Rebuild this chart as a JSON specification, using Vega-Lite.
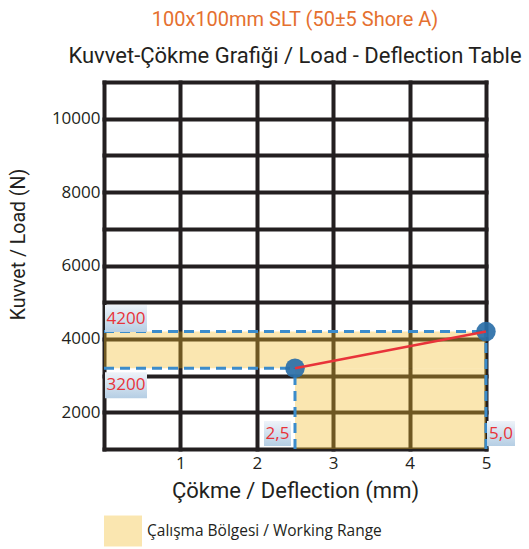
{
  "$schema": "https://vega.github.io/schema/vega-lite/v6.json",
  "width": 382,
  "height": 367,
  "padding": {"left": 8, "top": 10, "right": 5, "bottom": 0},
  "background": "white",
  "config": {"view": {"stroke": null}, "font": "Open Sans"},
  "title": {
    "text": "100x100mm SLT (50±5 Shore A)",
    "subtitle": "Kuvvet-Çökme Grafiği / Load - Deflection Table",
    "anchor": "middle",
    "frame": "group",
    "font": "Roboto",
    "fontSize": 20,
    "fontWeight": "normal",
    "color": "#E5702F",
    "subtitleFont": "Roboto",
    "subtitleFontSize": 22,
    "subtitleColor": "#231f20",
    "subtitlePadding": 16,
    "offset": 6
  },
  "datasets": {
    "zone": [
      {"zone": "Çalışma Bölgesi / Working Range", "x": 0, "x2": 5, "y": 3200, "y2": 4200},
      {"zone": "Çalışma Bölgesi / Working Range", "x": 2.5, "x2": 5, "y": 1000, "y2": 3200}
    ],
    "guides": [
      {"x": 0, "x2": 5, "y": 4200, "y2": 4200},
      {"x": 0, "x2": 2.5, "y": 3200, "y2": 3200},
      {"x": 2.5, "x2": 2.5, "y": 1000, "y2": 3200},
      {"x": 5, "x2": 5, "y": 1000, "y2": 4200}
    ],
    "points": [
      {"deflection": 2.5, "load": 3200},
      {"deflection": 5.0, "load": 4200}
    ],
    "labels": [
      {"label": "4200", "x": 0, "y": 4200},
      {"label": "3200", "x": 0, "y": 3200},
      {"label": "2,5", "x": 2.5, "y": 1000},
      {"label": "5,0", "x": 5, "y": 1000}
    ]
  },
  "layer": [
    {
      "data": {"name": "zone"},
      "mark": {"type": "rect", "opacity": 0.365},
      "encoding": {
        "x": {
          "field": "x", "type": "quantitative",
          "scale": {"domain": [0, 5], "nice": false, "zero": false},
          "axis": {
            "values": [0, 0.5, 1, 1.5, 2, 2.5, 3, 3.5, 4, 4.5, 5],
            "tickCount": 40,
            "format": "d",
            "labelExpr": "datum.value > 0 && datum.value % 1 == 0 ? datum.label : ''",
            "labelOverlap": false,
            "labelFlush": false,
            "grid": true, "gridColor": "#231f20", "gridWidth": 4, "gridOpacity": 1, "gridCap": "square",
            "domain": false, "ticks": false,
            "labelFont": "Open Sans", "labelFontSize": 17, "labelColor": "#231f20", "labelPadding": 6,
            "title": "Çökme / Deflection (mm)",
            "titleFont": "Roboto", "titleFontSize": 22, "titleFontWeight": "normal",
            "titleColor": "#231f20", "titlePadding": 9
          }
        },
        "x2": {"field": "x2"},
        "y": {
          "field": "y", "type": "quantitative",
          "scale": {"domain": [1000, 11000], "nice": false, "zero": false},
          "axis": {
            "values": [1000, 2000, 3000, 4000, 5000, 6000, 7000, 8000, 9000, 10000, 11000],
            "tickCount": 40,
            "format": "d",
            "labelExpr": "datum.value % 2000 == 0 && datum.value < 11000 ? datum.label : ''",
            "labelOverlap": false,
            "labelFlush": false,
            "grid": true, "gridColor": "#231f20", "gridWidth": 4, "gridOpacity": 1, "gridCap": "square",
            "domain": false, "ticks": false,
            "labelFont": "Open Sans", "labelFontSize": 17, "labelColor": "#231f20", "labelPadding": 4,
            "title": "Kuvvet / Load  (N)",
            "titleFont": "Roboto", "titleFontSize": 19.5, "titleFontWeight": "normal",
            "titleColor": "#231f20", "titlePadding": 23,
            "titleY": 162
          }
        },
        "y2": {"field": "y2"},
        "color": {
          "field": "zone", "type": "nominal",
          "scale": {"range": ["#F2BB26"]},
          "legend": {
            "title": null,
            "orient": "none",
            "legendX": 0,
            "legendY": 430,
            "symbolType": "M-1,-0.82L1,-0.82L1,0.82L-1,0.82Z",
            "symbolSize": 1444,
            "symbolStrokeWidth": 0,
            "symbolOpacity": 0.365,
            "labelFont": "Open Sans", "labelFontSize": 15.5, "labelColor": "#231f20", "labelOffset": 5,
            "labelLimit": 400
          }
        }
      }
    },
    {
      "data": {"name": "guides"},
      "mark": {"type": "rule", "color": "#3B8CCB", "strokeWidth": 3, "strokeDash": [10, 6]},
      "encoding": {
        "x": {"field": "x", "type": "quantitative"},
        "x2": {"field": "x2"},
        "y": {"field": "y", "type": "quantitative"},
        "y2": {"field": "y2"}
      }
    },
    {
      "data": {"name": "points"},
      "mark": {"type": "point", "filled": true, "size": 380, "color": "#2A6FA8", "opacity": 0.92},
      "encoding": {
        "x": {"field": "deflection", "type": "quantitative"},
        "y": {"field": "load", "type": "quantitative"}
      }
    },
    {
      "data": {"name": "points"},
      "mark": {"type": "line", "color": "#E8333A", "strokeWidth": 2.5},
      "encoding": {
        "x": {"field": "deflection", "type": "quantitative"},
        "y": {"field": "load", "type": "quantitative"}
      }
    },
    {
      "data": {"name": "labels"},
      "transform": [{"filter": "datum.label == '4200'"}],
      "layer": [
        {"mark": {"type": "point", "filled": true, "shape": "M-1,-0.643L1,-0.643L1,0.643L-1,0.643Z", "size": 1764, "opacity": 1, "xOffset": 22, "yOffset": -13,
          "color": {"gradient": "linear", "x1": 0, "y1": 0, "x2": 0, "y2": 1, "stops": [{"offset": 0, "color": "#EEF3F9"}, {"offset": 1, "color": "#B5CEE4"}]}}},
        {"mark": {"type": "text", "color": "#E8333A", "font": "Open Sans", "fontSize": 17, "align": "center", "baseline": "middle", "dx": 22, "dy": -13}, "encoding": {"text": {"field": "label"}}}
      ],
      "encoding": {"x": {"field": "x", "type": "quantitative"}, "y": {"field": "y", "type": "quantitative"}}
    },
    {
      "data": {"name": "labels"},
      "transform": [{"filter": "datum.label == '3200'"}],
      "layer": [
        {"mark": {"type": "point", "filled": true, "shape": "M-1,-0.62L1,-0.62L1,0.62L-1,0.62Z", "size": 1764, "opacity": 1, "xOffset": 22, "yOffset": 17,
          "color": {"gradient": "linear", "x1": 0, "y1": 0, "x2": 0, "y2": 1, "stops": [{"offset": 0, "color": "#EEF3F9"}, {"offset": 1, "color": "#B5CEE4"}]}}},
        {"mark": {"type": "text", "color": "#E8333A", "font": "Open Sans", "fontSize": 17, "align": "center", "baseline": "middle", "dx": 22, "dy": 17}, "encoding": {"text": {"field": "label"}}}
      ],
      "encoding": {"x": {"field": "x", "type": "quantitative"}, "y": {"field": "y", "type": "quantitative"}}
    },
    {
      "data": {"name": "labels"},
      "transform": [{"filter": "datum.label == '2,5'"}],
      "layer": [
        {"mark": {"type": "point", "filled": true, "shape": "M-1,-0.926L1,-0.926L1,0.926L-1,0.926Z", "size": 729, "opacity": 1, "xOffset": -17.5, "yOffset": -15.5,
          "color": {"gradient": "linear", "x1": 0, "y1": 0, "x2": 0, "y2": 1, "stops": [{"offset": 0, "color": "#EEF3F9"}, {"offset": 1, "color": "#B5CEE4"}]}}},
        {"mark": {"type": "text", "color": "#E8333A", "font": "Open Sans", "fontSize": 17, "align": "center", "baseline": "middle", "dx": -17.5, "dy": -15.5}, "encoding": {"text": {"field": "label"}}}
      ],
      "encoding": {"x": {"field": "x", "type": "quantitative"}, "y": {"field": "y", "type": "quantitative"}}
    },
    {
      "data": {"name": "labels"},
      "transform": [{"filter": "datum.label == '5,0'"}],
      "layer": [
        {"mark": {"type": "point", "filled": true, "shape": "M-1,-0.893L1,-0.893L1,0.893L-1,0.893Z", "size": 784, "opacity": 1, "xOffset": 15, "yOffset": -15.5,
          "color": {"gradient": "linear", "x1": 0, "y1": 0, "x2": 0, "y2": 1, "stops": [{"offset": 0, "color": "#EEF3F9"}, {"offset": 1, "color": "#B5CEE4"}]}}},
        {"mark": {"type": "text", "color": "#E8333A", "font": "Open Sans", "fontSize": 17, "align": "center", "baseline": "middle", "dx": 15, "dy": -15.5}, "encoding": {"text": {"field": "label"}}}
      ],
      "encoding": {"x": {"field": "x", "type": "quantitative"}, "y": {"field": "y", "type": "quantitative"}}
    }
  ]
}
